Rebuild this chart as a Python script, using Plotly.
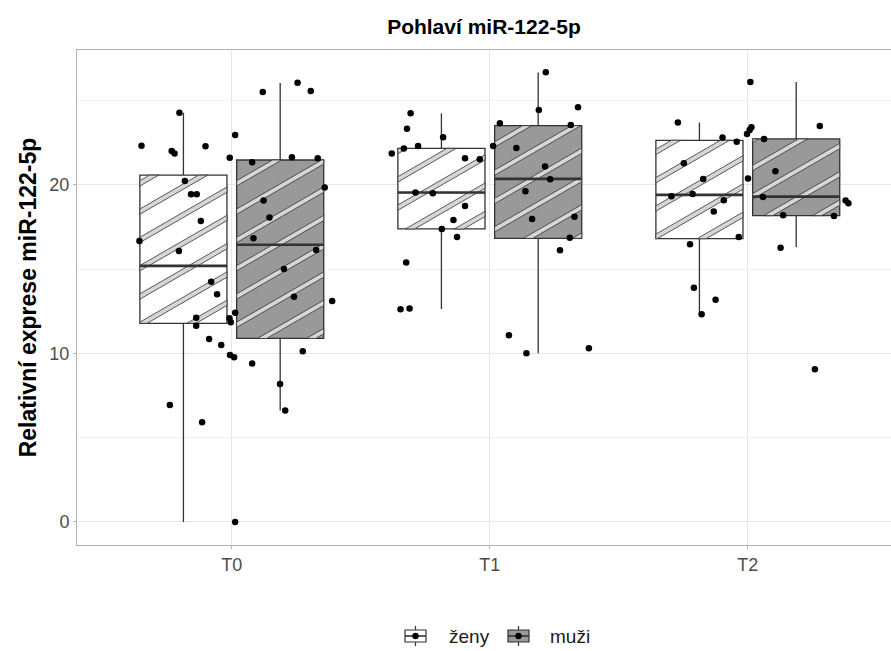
import math
import plotly.graph_objects as go

# ---------------------------------------------------------------- data
groups = ["T0", "T1", "T2"]
sexes = ["ženy", "muži"]

# box-plot statistics, women (ženy)
zeny_q1 = [11.79, 17.39, 16.81]
zeny_median = [15.20, 19.55, 19.41]
zeny_q3 = [20.58, 22.17, 22.65]
zeny_lower = [0.00, 12.64, 12.33]
zeny_upper = [24.29, 24.25, 23.70]

# box-plot statistics, men (muži)
muzi_q1 = [10.89, 16.83, 18.18]
muzi_median = [16.45, 20.36, 19.31]
muzi_q3 = [21.48, 23.52, 22.73]
muzi_lower = [6.61, 10.01, 16.30]
muzi_upper = [26.05, 26.67, 26.11]

# individual measurements per time point, with their horizontal jitter
t0_values = [24.29, 22.33, 22.02, 21.86, 22.30, 22.97, 21.62, 25.52, 26.07, 25.58,
             21.35, 21.65, 21.58, 20.24, 19.45, 19.45, 19.85, 19.07, 17.86, 18.07,
             16.68, 16.84, 16.08, 16.14, 15.01, 14.26, 13.51, 13.37, 13.11, 12.12,
             11.65, 12.09, 11.85, 12.42, 10.86, 10.50, 9.91, 9.77, 9.40, 10.13,
             8.19, 6.61, 6.94, 5.92, 0.00]
t0_jitter = [-0.203, -0.350, -0.233, -0.222, -0.102, 0.013, -0.008, 0.120, 0.255, 0.306,
             0.079, 0.233, 0.333, -0.182, -0.158, -0.136, 0.360, 0.123, -0.120, 0.146,
             -0.358, 0.084, -0.205, 0.327, 0.202, -0.080, -0.057, 0.241, 0.389, -0.138,
             -0.138, -0.009, -0.004, 0.013, -0.088, -0.041, -0.007, 0.009, 0.079, 0.275,
             0.187, 0.207, -0.240, -0.115, 0.013]

t1_values = [24.25, 23.34, 22.17, 21.86, 22.31, 22.83, 21.58, 21.52, 19.55, 19.51,
             18.75, 17.92, 17.39, 16.91, 15.40, 12.62, 12.66, 26.69, 24.45, 24.61,
             23.66, 23.56, 22.31, 22.20, 21.09, 20.34, 19.63, 18.12, 17.98, 16.87,
             16.12, 11.08, 10.01, 10.31]
t1_jitter = [-0.307, -0.321, -0.333, -0.380, -0.278, -0.181, -0.096, -0.039, -0.288, -0.221,
             -0.096, -0.141, -0.186, -0.127, -0.324, -0.346, -0.311, 0.217, 0.190, 0.342,
             0.039, 0.314, 0.013, 0.103, 0.214, 0.234, 0.138, 0.328, 0.164, 0.310,
             0.272, 0.074, 0.142, 0.384]

t2_values = [26.11, 23.70, 23.42, 23.26, 23.03, 22.81, 22.57, 22.73, 23.50, 21.29,
             20.36, 20.38, 20.81, 19.33, 19.47, 19.09, 19.29, 19.07, 18.91, 18.42,
             18.20, 18.16, 16.91, 16.48, 16.28, 13.90, 13.19, 12.33, 9.06]
t2_jitter = [0.010, -0.271, 0.014, 0.007, -0.003, -0.098, -0.043, 0.063, 0.279, -0.248,
             -0.173, 0.001, 0.107, -0.296, -0.214, -0.093, 0.059, 0.379, 0.390, -0.132,
             0.137, 0.334, -0.035, -0.224, 0.127, -0.209, -0.125, -0.179, 0.260]

# ---------------------------------------------------------------- geometry
W, H = 891, 651
MARGIN = dict(l=77, r=0, t=50, b=106)
X_RANGE = [-0.6, 2.555]
Y_RANGE = [-1.37, 28.01]
BOXGAP, GROUPGAP = 0.25, 0.1

plot_w = W - MARGIN["l"] - MARGIN["r"]
plot_h = H - MARGIN["t"] - MARGIN["b"]
sx = plot_w / (X_RANGE[1] - X_RANGE[0])   # pixels per x unit
sy = plot_h / (Y_RANGE[1] - Y_RANGE[0])   # pixels per y unit

half_w = (1 - BOXGAP) * (1 - GROUPGAP) / 2 / 2
offsets = [(1 - BOXGAP) * (-0.5 + (i + 0.5) / 2) for i in range(2)]

STRIPE_ANGLE = 30.0      # degrees on screen
STRIPE_SPACING = 24.5    # px, perpendicular
STRIPE_WIDTH = 4.6       # px
STRIPE_SHIFT = 19.0      # px below box centre at the left edge

BOX_LINE = "#333333"
FILLS = ["#ffffff", "#999999"]
FONT = "Liberation Sans, Arial, sans-serif"


def clip(poly, f):
    out = []
    n = len(poly)
    for i in range(n):
        p, q = poly[i], poly[(i + 1) % n]
        fp, fq = f(p), f(q)
        if fp >= 0:
            out.append(p)
        if (fp >= 0) != (fq >= 0):
            t = fp / (fp - fq)
            out.append((p[0] + t * (q[0] - p[0]), p[1] + t * (q[1] - p[1])))
    return out


def stripe_paths(x0, x1, y0, y1):
    """Diagonal hatch bands clipped to a box, returned in data units."""
    X0, X1, Y0, Y1 = x0 * sx, x1 * sx, y0 * sy, y1 * sy
    cy = (Y0 + Y1) / 2
    a = math.radians(STRIPE_ANGLE)
    nx, ny = -math.sin(a), math.cos(a)
    ax, ay = X0, cy - STRIPE_SHIFT
    rect = [(X0, Y0), (X1, Y0), (X1, Y1), (X0, Y1)]
    proj = [nx * (px - ax) + ny * (py - ay) for px, py in rect]
    kmin = math.floor(min(proj) / STRIPE_SPACING) - 1
    kmax = math.ceil(max(proj) / STRIPE_SPACING) + 1
    xs, ys = [], []
    for k in range(kmin, kmax + 1):
        c = k * STRIPE_SPACING
        lo, hi = c - STRIPE_WIDTH / 2, c + STRIPE_WIDTH / 2
        poly = clip(rect, lambda p: nx * (p[0] - ax) + ny * (p[1] - ay) - lo)
        if len(poly) < 3:
            continue
        poly = clip(poly, lambda p: hi - (nx * (p[0] - ax) + ny * (p[1] - ay)))
        if len(poly) < 3:
            continue
        for px, py in poly + [poly[0]]:
            xs.append(px / sx)
            ys.append(py / sy)
        xs.append(None)
        ys.append(None)
    return xs, ys


# ---------------------------------------------------------------- figure
fig = go.Figure()
positions = list(range(len(groups)))

stats = [
    (zeny_q1, zeny_median, zeny_q3, zeny_lower, zeny_upper),
    (muzi_q1, muzi_median, muzi_q3, muzi_lower, muzi_upper),
]

for s, (q1, med, q3, lo, hi) in enumerate(stats):
    fig.add_trace(go.Box(
        x=positions, q1=q1, median=med, q3=q3, lowerfence=lo, upperfence=hi,
        name=sexes[s], fillcolor=FILLS[s], boxpoints=False, whiskerwidth=0,
        line=dict(color=BOX_LINE, width=1.3), hoverinfo="skip", showlegend=False,
    ))

# hatch pattern over each box
for s, (q1, med, q3, lo, hi) in enumerate(stats):
    xs, ys = [], []
    for i in positions:
        c = i + offsets[s]
        px, py = stripe_paths(c - half_w, c + half_w, q1[i], q3[i])
        xs += px
        ys += py
    fig.add_trace(go.Scatter(
        x=xs, y=ys, mode="lines", fill="toself", fillcolor="#d6d6d6",
        line=dict(color=BOX_LINE, width=0.8), showlegend=False, hoverinfo="skip",
    ))

# median bars drawn over the hatching
for s, (q1, med, q3, lo, hi) in enumerate(stats):
    xs, ys = [], []
    for i in positions:
        c = i + offsets[s]
        xs += [c - half_w, c + half_w, None]
        ys += [med[i], med[i], None]
    fig.add_trace(go.Scatter(
        x=xs, y=ys, mode="lines", line=dict(color=BOX_LINE, width=2.6),
        showlegend=False, hoverinfo="skip",
    ))

# jittered observations
pts_x, pts_y = [], []
for i, (vals, jit) in enumerate([(t0_values, t0_jitter), (t1_values, t1_jitter),
                                 (t2_values, t2_jitter)]):
    pts_x += [i + j for j in jit]
    pts_y += vals
fig.add_trace(go.Scatter(
    x=pts_x, y=pts_y, mode="markers",
    marker=dict(color="#000000", size=6.5), showlegend=False,
))


# ---------------------------------------------------------------- legend
def pxx(px):
    return (px - MARGIN["l"]) / plot_w


def pxy(py):
    return (H - MARGIN["b"] - py) / plot_h


shapes, annotations = [], []
KEY_Y = 636
key_x = [415.5, 518.5]
text_x = [447, 548]
for s in range(2):
    cx = key_x[s]
    # whiskers
    shapes.append(dict(type="line", xref="paper", yref="paper",
                       x0=pxx(cx), x1=pxx(cx), y0=pxy(KEY_Y - 10), y1=pxy(KEY_Y + 10),
                       line=dict(color=BOX_LINE, width=1.2)))
    # box
    shapes.append(dict(type="rect", xref="paper", yref="paper",
                       x0=pxx(cx - 10.5), x1=pxx(cx + 10.5),
                       y0=pxy(KEY_Y - 6), y1=pxy(KEY_Y + 6),
                       fillcolor=FILLS[s], line=dict(color=BOX_LINE, width=1.2)))
    # median
    shapes.append(dict(type="line", xref="paper", yref="paper",
                       x0=pxx(cx - 10.5), x1=pxx(cx + 10.5),
                       y0=pxy(KEY_Y), y1=pxy(KEY_Y),
                       line=dict(color=BOX_LINE, width=1.6)))
    # point
    shapes.append(dict(type="circle", xref="paper", yref="paper",
                       x0=pxx(cx - 3.2), x1=pxx(cx + 3.2),
                       y0=pxy(KEY_Y - 3.2), y1=pxy(KEY_Y + 3.2),
                       fillcolor="#000000", line=dict(width=0)))
    annotations.append(dict(text=sexes[s], xref="paper", yref="paper",
                            x=pxx(text_x[s]), y=pxy(KEY_Y), xanchor="left",
                            yanchor="middle", showarrow=False,
                            font=dict(family=FONT, size=19, color="#1a1a1a")))

fig.update_layout(
    width=W, height=H, margin=MARGIN,
    paper_bgcolor="#ffffff", plot_bgcolor="#ffffff",
    boxmode="group", boxgap=BOXGAP, boxgroupgap=GROUPGAP,
    font=dict(family=FONT, size=18, color="#4d4d4d"),
    title=dict(text="Pohlaví miR-122-5p", xref="paper", x=0.5, xanchor="center",
               y=1 - 27 / H, yanchor="middle",
               font=dict(family=FONT, size=21, color="#000000", weight="bold")),
    showlegend=False,
    shapes=shapes, annotations=annotations,
)

fig.update_xaxes(
    range=X_RANGE, tickvals=positions, ticktext=groups,
    showgrid=True, gridcolor="#e6e6e6", gridwidth=1, zeroline=False,
    showline=True, linecolor="#b3b3b3", linewidth=1, mirror=True,
    ticks="outside", ticklen=3, tickcolor="#b3b3b3",
    tickfont=dict(size=18, color="#4d4d4d"),
)
fig.update_yaxes(
    range=Y_RANGE, tickvals=[0, 10, 20],
    showgrid=True, gridcolor="#e6e6e6", gridwidth=1, zeroline=False,
    minor=dict(tickvals=[5, 15, 25], showgrid=True, gridcolor="#f2f2f2", gridwidth=0.6),
    showline=True, linecolor="#b3b3b3", linewidth=1, mirror=False,
    ticks="outside", ticklen=3, tickcolor="#b3b3b3",
    tickfont=dict(size=18, color="#4d4d4d"),
    title=dict(text="Relativní exprese miR-122-5p", standoff=6,
               font=dict(family=FONT, size=23, color="#000000", weight="bold")),
)

fig.write_html("out.html")
